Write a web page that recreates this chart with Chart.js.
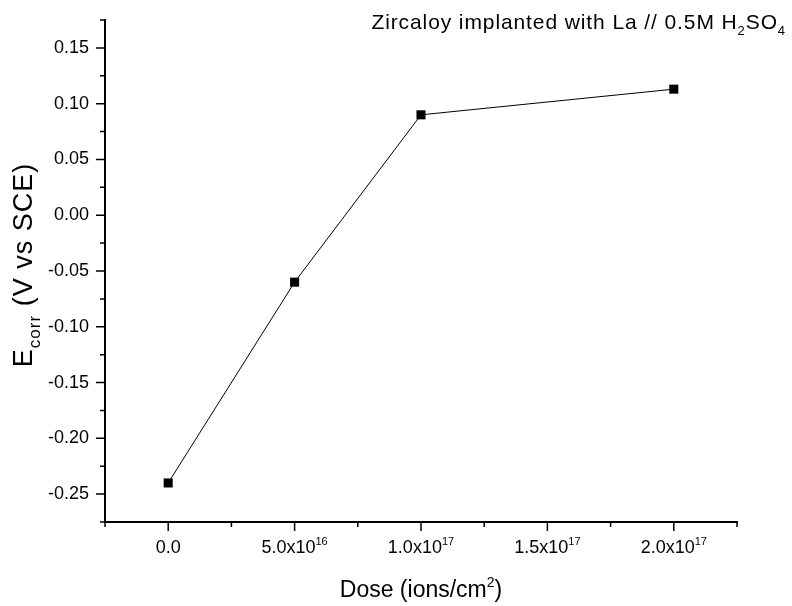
<!DOCTYPE html>
<html><head><meta charset="utf-8">
<script src="https://cdn.jsdelivr.net/npm/chart.js@4/dist/chart.umd.min.js"></script>
<style>html,body{margin:0;padding:0;background:#fff}#wrap{width:792px;height:606px;position:relative}</style>
</head><body><div id="wrap"><canvas id="c"></canvas></div>
<script>
// ---- data ----
const doses = [0, 5e16, 1e17, 2e17];
const ecorr = [-0.240, -0.060, 0.090, 0.113];
// ---- ticks ----
const xTickValues = [0, 5e16, 1e17, 1.5e17, 2e17];
const xTickMantissas = ['0.0', '5.0x10', '1.0x10', '1.5x10', '2.0x10'];
const xTickExponents = ['', '16', '17', '17', '17'];
const xMinorValues = [-2.5e16, 2.5e16, 7.5e16, 1.25e17, 1.75e17, 2.25e17];
const yTickValues = [-0.25, -0.20, -0.15, -0.10, -0.05, 0.00, 0.05, 0.10, 0.15];
const yTickLabels = ['-0.25', '-0.20', '-0.15', '-0.10', '-0.05', '0.00', '0.05', '0.10', '0.15'];
const yMinorValues = [-0.275, -0.225, -0.175, -0.125, -0.075, -0.025, 0.025, 0.075, 0.125, 0.175];
// ---- texts ----
const titleSegments = [['Zircaloy implanted with La // 0.5M H', 0], ['2', 1], ['SO', 0], ['4', 1]];
const xTitleSegments = [['Dose (ions/cm', 0], ['2', -1], [')', 0]];
const yTitleSegments = [['E', 0], ['corr', 1], [' (V vs SCE)', 0]];

const FONT = "'Liberation Sans', Arial, Helvetica, sans-serif";

function drawRich(ctx, segs, size, x, y, align, spacing) {
  const small = Math.round(size * 0.62);
  ctx.letterSpacing = (spacing || 0) + 'px';
  let total = 0;
  const widths = segs.map(([t, k]) => {
    ctx.font = (k ? small : size) + 'px ' + FONT;
    const w = ctx.measureText(t).width; total += w; return w;
  });
  let cx = align === 'center' ? x - total / 2 : align === 'right' ? x - total : x;
  segs.forEach(([t, k], i) => {
    ctx.font = (k ? small : size) + 'px ' + FONT;
    const dy = k === 1 ? size * 0.3 : k === -1 ? -size * 0.42 : 0;
    ctx.fillText(t, cx, y + dy);
    cx += widths[i];
  });
  ctx.letterSpacing = '0px';
}

const decor = {
  id: 'decor',
  afterDraw(chart) {
    const ctx = chart.ctx, xs = chart.scales.x, ys = chart.scales.y, a = chart.chartArea;
    ctx.save();
    ctx.strokeStyle = '#000';
    ctx.lineWidth = 1.5;
    ctx.beginPath();
    xTickValues.forEach(v => { const p = xs.getPixelForValue(v); ctx.moveTo(p, a.bottom); ctx.lineTo(p, a.bottom + 9); });
    xMinorValues.forEach(v => { const p = xs.getPixelForValue(v); ctx.moveTo(p, a.bottom); ctx.lineTo(p, a.bottom + 5); });
    yTickValues.forEach(v => { const p = ys.getPixelForValue(v); ctx.moveTo(a.left, p); ctx.lineTo(a.left - 9, p); });
    yMinorValues.forEach(v => { const p = ys.getPixelForValue(v); ctx.moveTo(a.left, p); ctx.lineTo(a.left - 5, p); });
    ctx.stroke();
    ctx.fillStyle = '#000';
    ctx.textBaseline = 'alphabetic';
    ctx.textAlign = 'left';
    // x tick labels with superscript exponents
    xTickValues.forEach((v, i) => {
      const p = xs.getPixelForValue(v);
      drawRich(ctx, [[xTickMantissas[i], 0], [xTickExponents[i], -1]], 18, p, a.bottom + 31, 'center', 0);
    });
    // x title
    drawRich(ctx, xTitleSegments, 23, (a.left + a.right) / 2, 597, 'center', 0);
    // chart title
    drawRich(ctx, titleSegments, 21, 786, 29, 'right', 0.9);
    // y title
    ctx.translate(32, 265);
    ctx.rotate(-Math.PI / 2);
    drawRich(ctx, yTitleSegments, 27, 0, 0, 'center', 1);
    ctx.restore();
  }
};

new Chart(document.getElementById('c'), {
  type: 'line',
  data: {
    datasets: [{
      data: doses.map((d, i) => ({ x: d, y: ecorr[i] })),
      borderColor: '#000',
      borderWidth: 1,
      backgroundColor: '#000',
      pointStyle: 'rect',
      pointRadius: 6.4,
      pointHoverRadius: 6.4,
      pointBackgroundColor: '#000',
      pointBorderWidth: 0,
      tension: 0
    }]
  },
  options: {
    responsive: true,
    maintainAspectRatio: false,
    animation: false,
    events: [],
    layout: { padding: { top: 20, right: 55, left: 0, bottom: 0 } },
    plugins: { legend: { display: false }, tooltip: { enabled: false }, title: { display: false } },
    scales: {
      x: {
        type: 'linear',
        min: -2.5e16, max: 2.25e17,
        grid: { display: false, drawTicks: false },
        border: { display: true, color: '#000', width: 2 },
        ticks: { display: false },
        afterFit(s) { s.height = 84; s.paddingLeft = 0; s.paddingRight = 0; }
      },
      y: {
        type: 'linear',
        min: -0.275, max: 0.175,
        grid: { display: false, drawTicks: false },
        border: { display: true, color: '#000', width: 2 },
        afterBuildTicks(s) { s.ticks = yTickValues.map(v => ({ value: v })); },
        ticks: {
          color: '#000',
          padding: 16,
          font: { family: FONT, size: 18 },
          callback(v) { const i = yTickValues.findIndex(t => Math.abs(t - v) < 1e-9); return i >= 0 ? yTickLabels[i] : ''; }
        },
        afterFit(s) { s.width = 105; s.paddingTop = 0; s.paddingBottom = 0; }
      }
    }
  },
  plugins: [decor]
});
</script>
</body></html>
